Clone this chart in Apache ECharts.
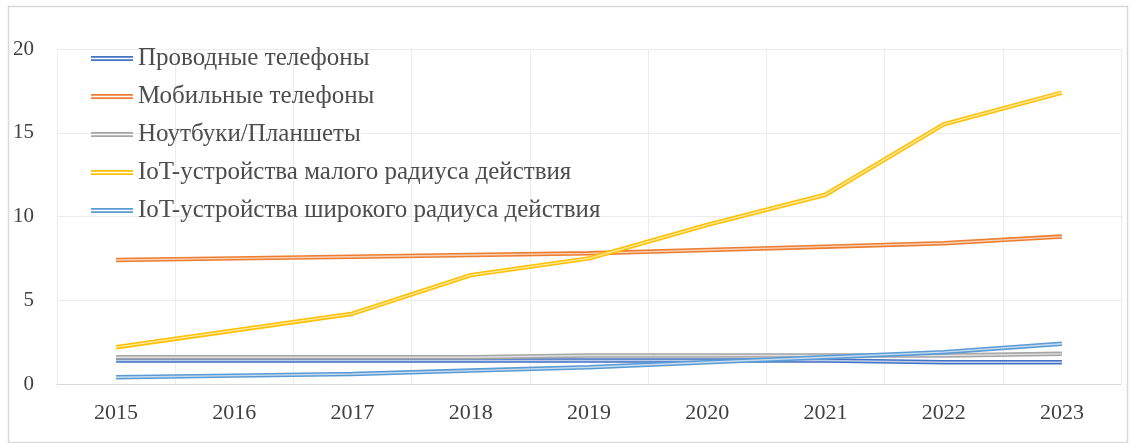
<!DOCTYPE html>
<html>
<head>
<meta charset="utf-8">
<script src="https://cdn.jsdelivr.net/npm/echarts@6/dist/echarts.min.js"></script>
<style>
  html, body { margin: 0; padding: 0; background: #ffffff; }
  #chart { width: 1130px; height: 443px; }
</style>
</head>
<body>
<div id="chart"></div>
<script>
// Device counts by year, billions
const years = ['2015', '2016', '2017', '2018', '2019', '2020', '2021', '2022', '2023'];
const seriesNames = [
  'Проводные телефоны',
  'Мобильные телефоны',
  'Ноутбуки/Планшеты',
  'IoT-устройства малого радиуса действия',
  'IoT-устройства широкого радиуса действия'
];
const wiredPhones = [1.4, 1.4, 1.4, 1.4, 1.4, 1.4, 1.4, 1.3, 1.3];
const mobilePhones = [7.4, 7.5, 7.6, 7.7, 7.8, 8.0, 8.2, 8.4, 8.8];
const laptopsTablets = [1.6, 1.6, 1.6, 1.6, 1.7, 1.7, 1.7, 1.7, 1.8];
const iotShortRange = [2.2, 3.2, 4.2, 6.5, 7.5, 9.5, 11.3, 15.5, 17.4];
const iotWideRange = [0.4, 0.5, 0.6, 0.8, 1.0, 1.3, 1.6, 1.9, 2.4];
const yTicks = { min: 0, max: 20, interval: 5 };

const seriesData = [wiredPhones, mobilePhones, laptopsTablets, iotShortRange, iotWideRange];
const colors = ['#4472C4', '#ED7D31', '#A5A5A5', '#FFC000', '#5B9BD5'];
const serif = '"Liberation Serif", "DejaVu Serif", serif';

// Each series is drawn as a "double" line: a wide coloured stroke with a pale core
const series = [];
seriesData.forEach(function (vals, i) {
  series.push({
    name: seriesNames[i],
    type: 'line',
    data: vals,
    symbol: 'none',
    z: 2 + i * 2,
    lineStyle: { color: colors[i], width: 4.5 },
    itemStyle: { color: colors[i] },
    emphasis: { disabled: true }
  });
  series.push({
    name: seriesNames[i],
    type: 'line',
    data: vals,
    symbol: 'none',
    z: 3 + i * 2,
    lineStyle: { color: 'rgba(255,255,255,0.65)', width: 1.4 },
    emphasis: { disabled: true },
    tooltip: { show: false }
  });
});

const chart = echarts.init(document.getElementById('chart'), null, { renderer: 'canvas' });
chart.setOption({
  animation: false,
  backgroundColor: '#ffffff',
  color: colors,
  graphic: [{
    type: 'rect',
    shape: { x: 8.5, y: 6.5, width: 1119, height: 436 },
    style: { fill: 'none', stroke: '#d9d9d9', lineWidth: 1.5 },
    z: -1
  }],
  grid: { left: 57, right: 9, top: 49, bottom: 59 },
  legend: {
    data: seriesNames,
    orient: 'vertical',
    left: 86,
    top: 41,
    itemWidth: 42,
    itemHeight: 5,
    itemGap: 13,
    icon: 'path://M0,0H42V1.7H0Z M0,3.3H42V5H0Z',
    textStyle: { fontFamily: serif, fontSize: 25, color: '#4d4d4d' }
  },
  xAxis: {
    type: 'category',
    data: years,
    boundaryGap: true,
    axisLine: { show: true, lineStyle: { color: '#d9d9d9', width: 1 } },
    axisTick: { show: false },
    axisLabel: { fontFamily: serif, fontSize: 22, color: '#404040', margin: 18 },
    splitLine: { show: true, lineStyle: { color: '#ececec', width: 1 } }
  },
  yAxis: {
    type: 'value',
    min: yTicks.min,
    max: yTicks.max,
    interval: yTicks.interval,
    axisLine: { show: false },
    axisTick: { show: false },
    axisLabel: { fontFamily: serif, fontSize: 21, color: '#404040', margin: 23 },
    splitLine: { show: true, lineStyle: { color: '#ececec', width: 1 } }
  },
  series: series
});
</script>
</body>
</html>
